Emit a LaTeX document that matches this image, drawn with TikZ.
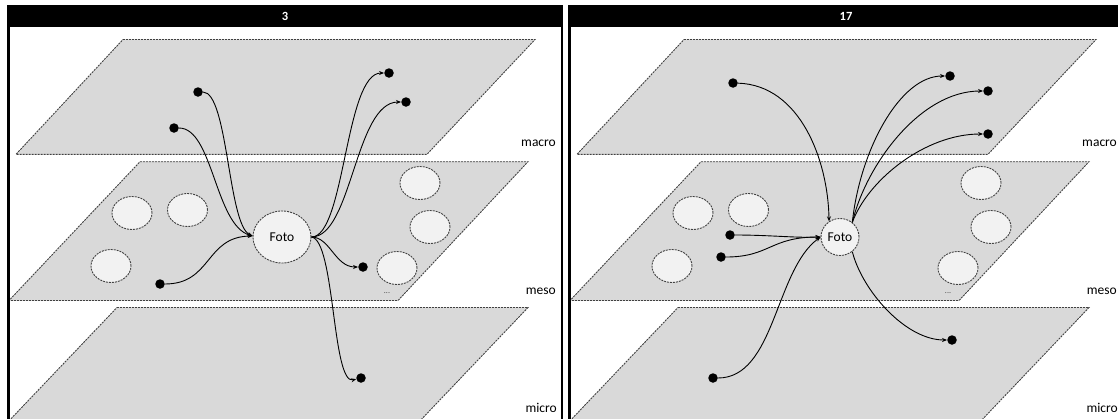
\documentclass[tikz,border=0pt]{standalone}
\usepackage{fontspec}
\setmainfont{Carlito}
\usetikzlibrary{arrows.meta,shapes.geometric}
\definecolor{planefill}{HTML}{D9D9D9}
\definecolor{planeline}{HTML}{404040}
\definecolor{ellfill}{HTML}{F2F2F2}
\tikzset{
 planestyle/.style={fill=planefill, draw=planeline, line width=0.9pt, dash pattern=on 2pt off 1pt},
 blobstyle/.style={ellipse, fill=ellfill, draw=planeline, line width=0.9pt, dash pattern=on 2pt off 1pt, minimum width=40pt, minimum height=33pt, inner sep=0pt},
 fotostyle/.style={blobstyle, font=\fontsize{13.5}{15}\selectfont},
 dotstyle/.style={circle, fill=black, minimum size=9.5pt, inner sep=0pt},
 linkstyle/.style={draw=black, line width=0.9pt, -{Stealth[length=5pt,width=4pt]}},
 lvlstyle/.style={font=\fontsize{13.5}{15}\selectfont, anchor=east, inner sep=0pt},
 headstyle/.style={font=\bfseries\fontsize{12.5}{14}\selectfont, text=white, inner sep=0pt},
 framestyle/.style={line width=2.5pt, draw=black},
}
\newcommand\mypanel[3]{%
\begin{scope}[xshift=#1]
 \draw[planestyle] (123,39.5) -- (535,39.5) -- (427,154.3) -- (16,154.3) -- cycle;
 \draw[planestyle] (140,161.7) -- (528,161.7) -- (398,300.5) -- (9,300.5) -- cycle;
 \draw[planestyle] (117,307.5) -- (528,307.5) -- (416,425) -- (5,425) -- cycle;
 \node[blobstyle] (#3e1) at (132,213) {};
 \node[blobstyle] (#3e2) at (187.5,210) {};
 \node[blobstyle] (#3e3) at (111,266) {};
 \node[blobstyle] (#3e4) at (420,183) {};
 \node[blobstyle] (#3e5) at (430,227) {};
 \node[blobstyle] (#3e6) at (397,268) {};
 \node[font=\fontsize{8}{9}\selectfont, inner sep=0pt, text=planeline] (#3dots) at (387,293) {...};
 \node[lvlstyle] (#3macro) at (556,143) {macro};
 \node[lvlstyle] (#3meso) at (556,291) {meso};
 \node[lvlstyle] (#3micro) at (557,408) {micro};
 \fill[black] (7,5) rectangle (563,27);
 \node[headstyle] (#3title) at (285,16) {#2};
 \draw[framestyle] (8.25,26) -- (8.25,425);
 \draw[framestyle] (561.75,26) -- (561.75,425);
\end{scope}}
\begin{document}
\begin{tikzpicture}[x=1pt,y=-1pt]
\useasboundingbox (0,0) rectangle (1118,418);
\clip (0,0) rectangle (1118,418);
\fill[white] (0,0) rectangle (1118,418);
\mypanel{0pt}{3}{L}
\mypanel{561pt}{17}{R}
% left panel
\node[fotostyle, minimum width=58pt, minimum height=52pt] (LFoto) at (282,237) {Foto};
\node[dotstyle] (LA) at (198,92) {};
\node[dotstyle] (LB) at (174,128) {};
\node[dotstyle] (LC) at (389,73) {};
\node[dotstyle] (LD) at (406,102) {};
\node[dotstyle] (LE) at (160,284) {};
\node[dotstyle] (LF) at (363,267) {};
\node[dotstyle] (LG) at (361,378) {};
\draw[linkstyle] (LA) .. controls (228,92) and (228,225) .. (LFoto.178);
\draw[linkstyle] (LB) .. controls (213,128) and (215,225) .. (LFoto.178);
\draw[linkstyle] (LE) .. controls (212,284) and (205,237) .. (LFoto.178);
\draw[linkstyle] (LFoto.east) .. controls (345,237) and (345,73) .. (LC);
\draw[linkstyle] (LFoto.east) .. controls (352,237) and (355,102) .. (LD);
\draw[linkstyle] (LFoto.east) .. controls (330,237) and (335,267) .. (LF);
\draw[linkstyle] (LFoto.east) .. controls (335,240) and (332,385) .. (LG);
% right panel
\node[fotostyle, minimum width=38pt, minimum height=37pt] (RFoto) at (840,237) {Foto};
\node[dotstyle] (RH) at (733,83) {};
\node[dotstyle] (RI) at (950,76) {};
\node[dotstyle] (RJ) at (988,91) {};
\node[dotstyle] (RK) at (988,134) {};
\node[dotstyle] (RL) at (730,235) {};
\node[dotstyle] (RM) at (721,257) {};
\node[dotstyle] (RN) at (713,378) {};
\node[dotstyle] (RO) at (952,340) {};
\draw[linkstyle] (RH) .. controls (800,85) and (828,160) .. (RFoto.125);
\draw[linkstyle] (RL) .. controls (770,235) and (795,238) .. (RFoto.west);
\draw[linkstyle] (RM) .. controls (770,257) and (770,237) .. (RFoto.west);
\draw[linkstyle] (RN) .. controls (775,378) and (775,270) .. (RFoto.west);
\draw[linkstyle] (RFoto.50) .. controls (860,150) and (900,76) .. (RI);
\draw[linkstyle] (RFoto.50) .. controls (866,165) and (920,91) .. (RJ);
\draw[linkstyle] (RFoto.50) .. controls (868,180) and (925,134) .. (RK);
\draw[linkstyle] (RFoto.-50) .. controls (862,290) and (905,340) .. (RO);
\end{tikzpicture}
\end{document}
